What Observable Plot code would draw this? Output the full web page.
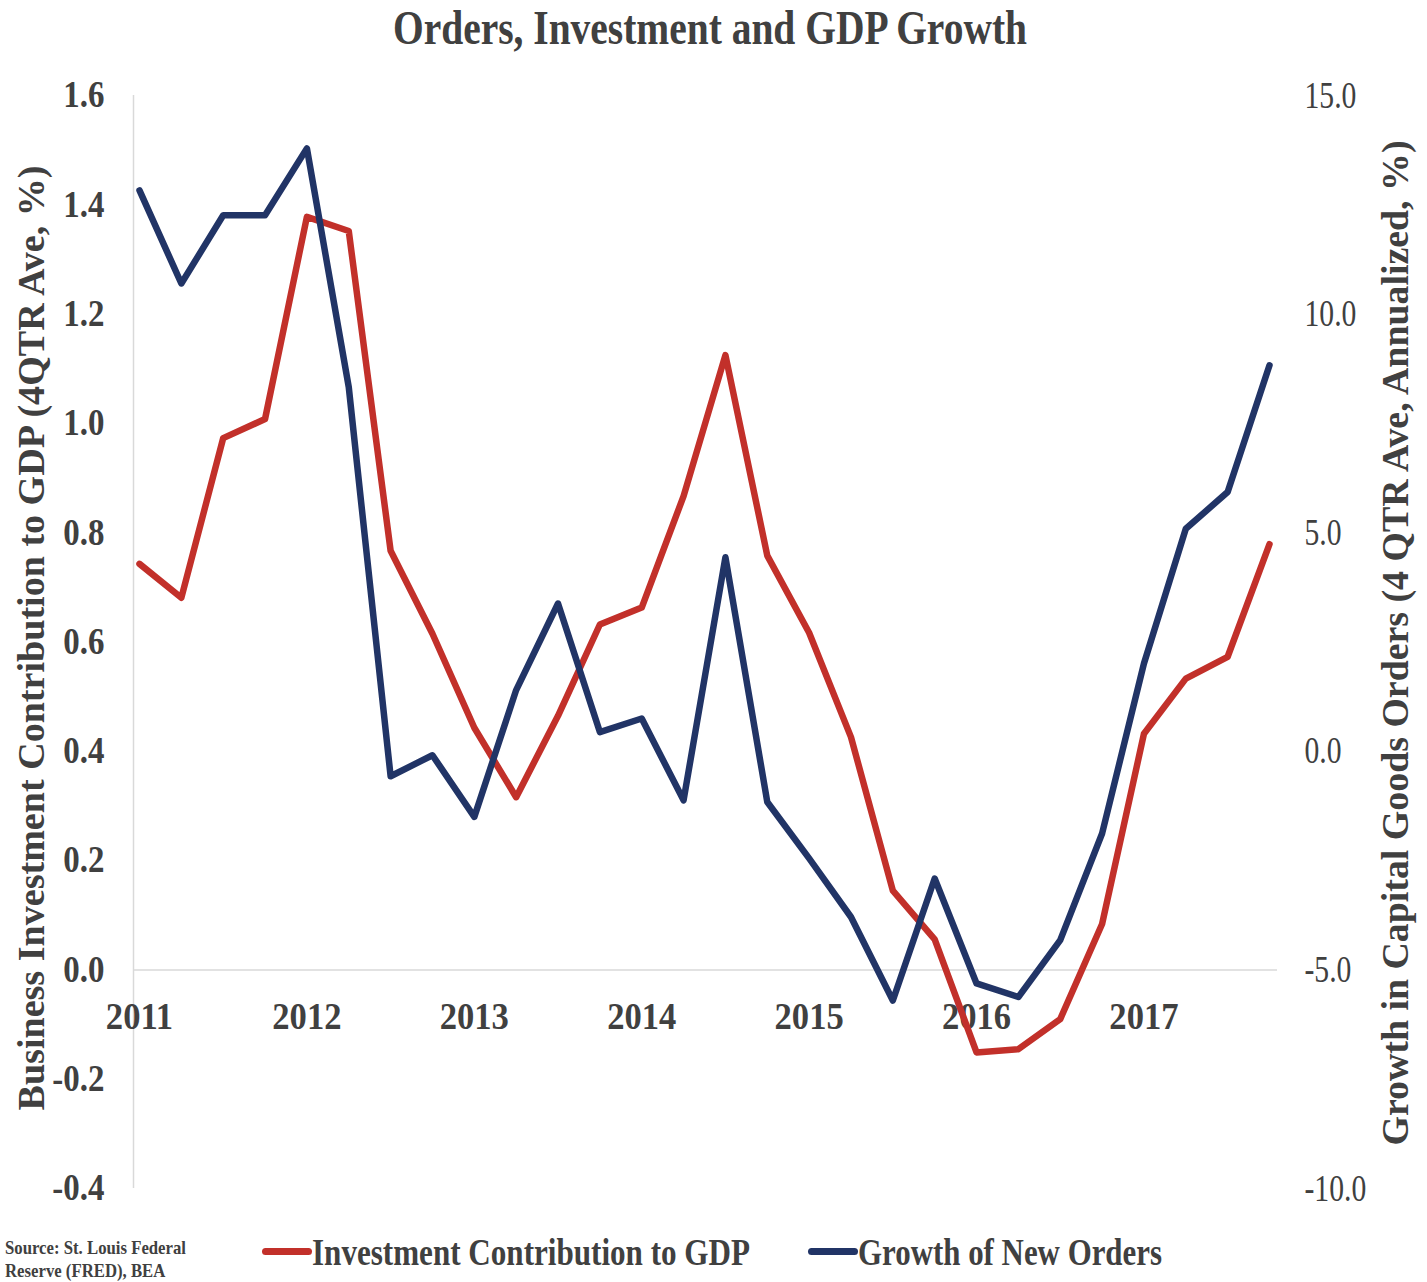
<!DOCTYPE html>
<html>
<head>
<meta charset="utf-8">
<script src="https://cdn.jsdelivr.net/npm/d3@7"></script>
<script src="https://cdn.jsdelivr.net/npm/@observablehq/plot@0.6"></script>
<style>
  html, body { margin: 0; padding: 0; background: #ffffff; }
  body { width: 1427px; height: 1282px; overflow: hidden; position: relative;
         font-family: "Liberation Serif", "DejaVu Serif", serif; color: #404040; }
  .t { position: absolute; white-space: nowrap; font-weight: bold; transform-origin: 0 50%; }
  #title { left: 393px; top: 4px; font-size: 48px; line-height: 48px; }
  #chart { position: absolute; left: 0; top: 62px; }
  .sw { position: absolute; height: 7px; width: 50px; border-radius: 4px; }
  .lg { font-size: 38px; line-height: 38px; top: 1233px; }
  .src { font-size: 19px; line-height: 19px; }
</style>
</head>
<body>
<div id="title" class="t">Orders, Investment and GDP Growth</div>
<div id="chart"></div>
<div class="sw" style="left:262px; top:1248px; background:#c2302a;"></div>
<div id="lg1" class="t lg" style="left:312px;">Investment Contribution to GDP</div>
<div class="sw" style="left:808px; top:1248px; background:#213466;"></div>
<div id="lg2" class="t lg" style="left:858px;">Growth of New Orders</div>
<div id="src1" class="t src" style="left:5px; top:1238px;">Source: St. Louis Federal</div>
<div id="src2" class="t src" style="left:5px; top:1261px;">Reserve (FRED), BEA</div>
<script>
// ---- data ----
const quarters = [
  "2011Q1","2011Q2","2011Q3","2011Q4",
  "2012Q1","2012Q2","2012Q3","2012Q4",
  "2013Q1","2013Q2","2013Q3","2013Q4",
  "2014Q1","2014Q2","2014Q3","2014Q4",
  "2015Q1","2015Q2","2015Q3","2015Q4",
  "2016Q1","2016Q2","2016Q3","2016Q4",
  "2017Q1","2017Q2","2017Q3","2017Q4"
];
// Business investment contribution to GDP (4QTR ave, %) - left axis
const investment = [
  0.743, 0.681, 0.973, 1.008,
  1.378, 1.352, 0.767, 0.615,
  0.443, 0.316, 0.465, 0.632,
  0.663, 0.867, 1.125, 0.758,
  0.617, 0.426, 0.145, 0.056,
  -0.151, -0.145, -0.090, 0.084,
  0.432, 0.533, 0.573, 0.779
];
// Growth in capital goods orders (4 QTR ave, annualized, %) - right axis
const orders = [
  12.83, 10.70, 12.26, 12.26,
  13.79, 8.33, -0.57, -0.09,
  -1.50, 1.40, 3.38, 0.44,
  0.75, -1.12, 4.44, -1.16,
  -2.45, -3.79, -5.70, -2.91,
  -5.31, -5.62, -4.32, -1.88,
  2.01, 5.09, 5.93, 8.83
];
const leftTicks = [-0.4, -0.2, 0.0, 0.2, 0.4, 0.6, 0.8, 1.0, 1.2, 1.4, 1.6];
const rightTicks = [-10, -5, 0, 5, 10, 15];
const yearLabels = ["2011", "2012", "2013", "2014", "2015", "2016", "2017"];
const leftTitle = "Business Investment Contribution to GDP (4QTR Ave, %)";
const rightTitle = "Growth in Capital Goods Orders (4 QTR Ave, Annualized, %)";

// ---- dual axis mapping (right -> left units) ----
const leftDomain = [-0.4, 1.6];
const rightDomain = [-10, 15];
const toLeft = d3.scaleLinear().domain(rightDomain).range(leftDomain);

const qTime = q => +q.slice(0, 4) + (+q.slice(5) - 1) / 4;
const rows = quarters.map((q, i) => ({t: qTime(q), inv: investment[i], ord: orders[i]}));

const x0 = 2011 - 6 / 167.5, x1 = 2017.75 + 8 / 167.5;
const RED = "#c2302a", BLUE = "#213466", GRID = "#d9d9d9";

const fmtRight = v => { const r = Math.round(toLeft.invert(v) * 10) / 10 + 0; return r.toFixed(1); };

const plot = Plot.plot({
  width: 1427,
  height: 1160,
  marginLeft: 133,
  marginRight: 150,
  marginTop: 33,
  marginBottom: 34,
  style: {fontFamily: "Liberation Serif, DejaVu Serif, serif", color: "#404040", background: "#ffffff", overflow: "visible"},
  x: {domain: [x0, x1], axis: null},
  y: {domain: leftDomain, axis: null},
  marks: [
    Plot.ruleX([x0], {y1: leftDomain[0], y2: leftDomain[1], stroke: GRID, strokeWidth: 1.5}),
    Plot.ruleY([0], {stroke: GRID, strokeWidth: 1.5}),
    Plot.axisY(leftTicks, {anchor: "left", tickSize: 0, tickPadding: 29, tickFormat: d => d.toFixed(1),
      fontSize: 37, fontWeight: "bold", label: null}),
    Plot.axisY(rightTicks.map(toLeft), {anchor: "right", tickSize: 0, tickPadding: 27, tickFormat: fmtRight,
      fontSize: 38, label: null}),
    Plot.text(yearLabels, {x: d => +d, y: 0, dy: 47, fontSize: 38, fontWeight: "bold", fill: "#404040"}),
    Plot.text([leftTitle], {frameAnchor: "bottom-left", dx: -102, dy: -78, rotate: -90, textAnchor: "start",
      lineAnchor: "middle", fontSize: 38, fontWeight: "bold", fill: "#404040"}),
    Plot.text([rightTitle], {frameAnchor: "bottom-right", dx: 118, dy: -43, rotate: -90, textAnchor: "start",
      lineAnchor: "middle", fontSize: 38, fontWeight: "bold", fill: "#404040"}),
    Plot.line(rows, {x: "t", y: "inv", stroke: RED, strokeWidth: 6.5, strokeLinejoin: "round", strokeLinecap: "round"}),
    Plot.line(rows, {x: "t", y: d => toLeft(d.ord), stroke: BLUE, strokeWidth: 6.5, strokeLinejoin: "round", strokeLinecap: "round"})
  ]
});
document.getElementById("chart").append(plot);

// condense the serif text to mimic the reference's narrow face
plot.querySelectorAll("text").forEach(t => {
  const s = t.textContent;
  const anchor = getComputedStyle(t).textAnchor;
  const len = t.getComputedTextLength();
  let target = null;
  if (s.startsWith("Business")) target = 945;
  else if (s.startsWith("Growth in")) target = 1005;
  else if (/^\d{4}$/.test(s)) target = len * 0.91;
  else if (anchor === "end") target = len * 0.89;
  else if (anchor === "start") target = len * 0.78;
  if (target) { t.setAttribute("textLength", target); t.setAttribute("lengthAdjust", "spacingAndGlyphs"); }
});

function fit(id, target, k) {
  const el = document.getElementById(id);
  const w = el.getBoundingClientRect().width;
  const s = k || target / w;
  el.style.transform = `scaleX(${s})`;
  return s;
}
fit("title", 634);
fit("lg1", 438);
fit("lg2", 304);
const ks = fit("src1", 181);
fit("src2", 0, ks);
</script>
</body>
</html>
